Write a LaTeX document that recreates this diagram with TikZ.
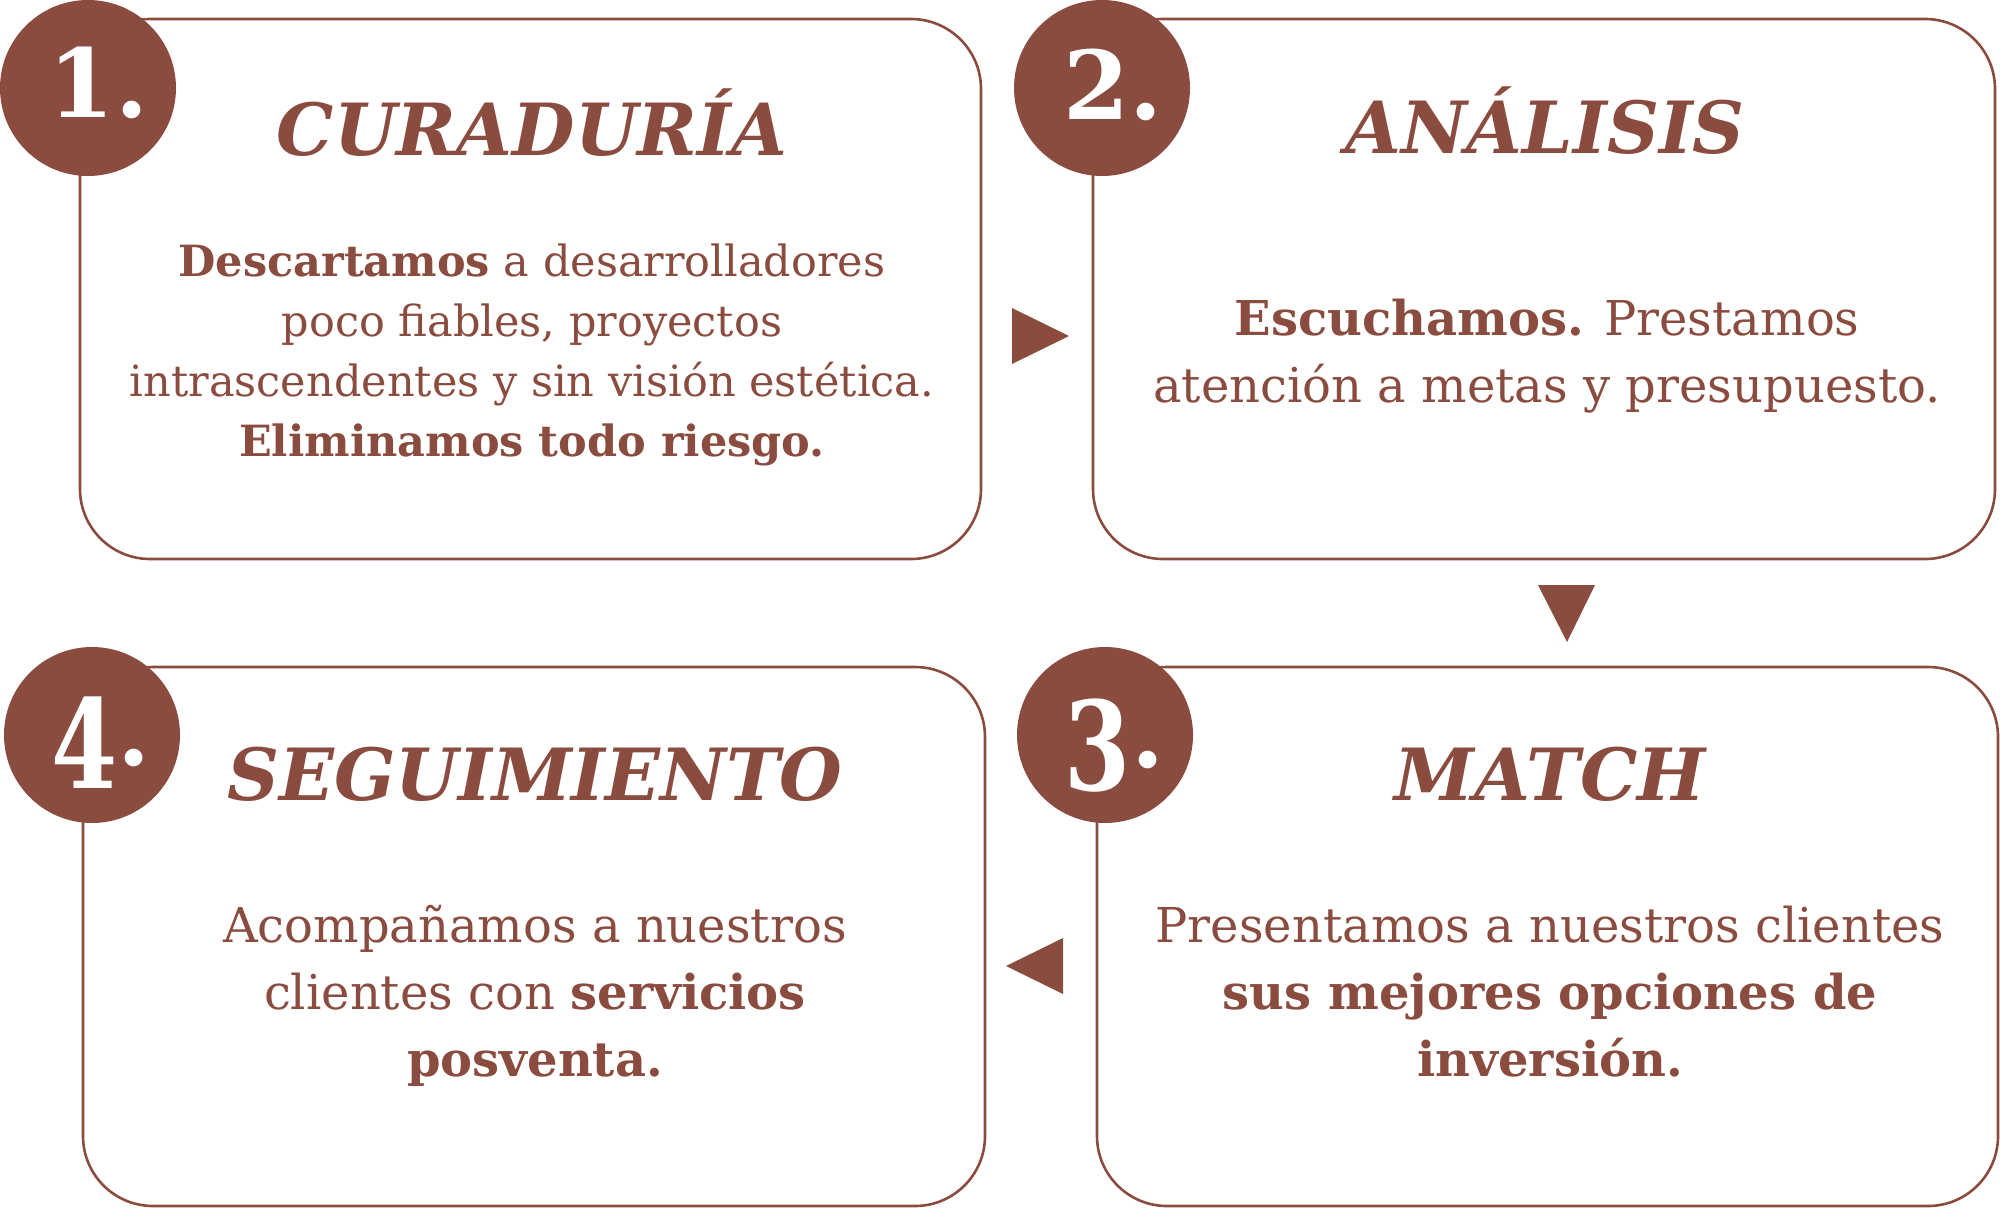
\documentclass[tikz,border=0pt]{standalone}
\usepackage{fontspec}
\setmainfont{DejaVu Serif}
\definecolor{brn}{RGB}{139,76,64}
\begin{document}
\begin{tikzpicture}[x=0.5pt,y=-0.5pt,
  card/.style={draw=brn, line width=1.3pt, rounded corners=35pt, rectangle, inner sep=0pt},
  badge/.style={circle, fill=brn, minimum size=88pt, inner sep=0pt},
  num/.style={text=white, inner sep=0pt, font=\fontsize{47.5pt}{50pt}\selectfont\bfseries},
  ttl/.style={text=brn, inner sep=0pt, anchor=base, font=\fontsize{36pt}{40pt}\selectfont\bfseries\itshape},
  body/.style={text=brn, align=center, inner sep=0pt, font=\fontsize{24pt}{33.5pt}\selectfont},
  bodysm/.style={body, font=\fontsize{21.5pt}{30pt}\selectfont},
  tri/.style={fill=brn}
]
\useasboundingbox (0,0) rectangle (2000,1209);

% cards
\node[card, minimum width=450.5pt, minimum height=270pt] (b1) at (530.5,289) {};
\node[card, minimum width=451pt, minimum height=270pt] (b2) at (1544,289) {};
\node[card, minimum width=451pt, minimum height=269.5pt] (b4) at (534,936.5) {};
\node[card, minimum width=450.5pt, minimum height=269.5pt] (b3) at (1547.5,936.5) {};

% badges
\node[badge] (c1) at (88,88) {};
\node[badge] (c2) at (1102,88) {};
\node[badge] (c3) at (1105,735) {};
\node[badge] (c4) at (92,735) {};
\node[num, anchor=base] (n1) at (98.5,118) {1.};
\node[num, anchor=base] (n2) at (1113,120) {2.};
\node[num, anchor=base] (n3) at (1114.5,767) {\raisebox{-11.5pt}{\scalebox{1}[1.3]{3}}.};
\node[num, anchor=base] (n4) at (101,765) {\raisebox{-11.5pt}{\scalebox{1}[1.3]{4}}.};

% titles
\node[ttl] (t1) at (532,156) {CURADURÍA};
\node[ttl] (t2) at (1545,154) {ANÁLISIS};
\node[ttl] (t3) at (1550,800) {MATCH};
\node[ttl] (t4) at (535,800) {SEGUIMIENTO};

% bodies
\node[bodysm] (d1) at (532,354) {\strut\textbf{Descartamos} a desarrolladores\\poco fiables, proyectos\\intrascendentes y sin visión estética.\\\textbf{Eliminamos todo riesgo.}\strut};
\node[body] (d2) at (1547,355.5) {\strut\textbf{Escuchamos.} Prestamos\\atención a metas y presupuesto.\strut};
\node[body] (d3) at (1550,996.5) {\strut Presentamos a nuestros clientes\\\textbf{sus mejores opciones de}\\\textbf{inversión.}\strut};
\node[body] (d4) at (535,996.5) {\strut Acompañamos a nuestros\\clientes con \textbf{servicios}\\\textbf{posventa.}\strut};

% flow triangles
\fill[tri] (1012,308) -- (1069,336) -- (1012,364) -- cycle;
\fill[tri] (1538,585) -- (1595,585) -- (1567,642) -- cycle;
\fill[tri] (1063,938) -- (1006,966) -- (1063,994) -- cycle;
\end{tikzpicture}
\end{document}
